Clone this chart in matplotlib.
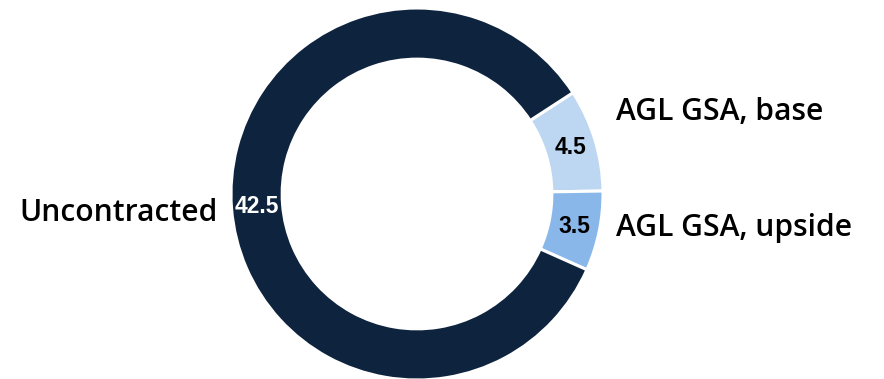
import matplotlib.pyplot as plt
import numpy as np

names = ['AGL GSA, base', 'AGL GSA, upside', 'Uncontracted']
values = [4.5, 3.5, 42.5]
colors = ['#BDD6F2', '#8AB7E9', '#0E233E']
num_colors = ['black', 'black', 'white']

W, H = 884, 379
fig = plt.figure(figsize=(W / 100, H / 100), dpi=100)
ax = fig.add_axes([0, 0, 1, 1])

# ring centre and outer radius in pixels
cx, cy, r = 417, 194, 186

wedges, texts = ax.pie(values, colors=colors, startangle=33, counterclock=False,
                       radius=1, wedgeprops=dict(width=0.275, edgecolor='white', linewidth=2.2))
ax.set_aspect('auto')
ax.set_xlim(-cx / r, (W - cx) / r)
ax.set_ylim(-(H - cy) / r, cy / r)
ax.axis('off')

for w, v, c in zip(wedges, values, num_colors):
    ang = np.deg2rad((w.theta1 + w.theta2) / 2)
    rr = 0.862
    ax.text(rr * np.cos(ang), rr * np.sin(ang), f'{v}', ha='center', va='center',
            color=c, fontsize=16.5, fontweight='bold', family='Liberation Sans')

def px(x, y):
    return x / W, 1 - y / H

fig.text(*px(616, 112), names[0], ha='left', va='center', fontsize=21.6, fontweight='semibold', family='Open Sans')
fig.text(*px(616, 228), names[1], ha='left', va='center', fontsize=21.6, fontweight='semibold', family='Open Sans')
fig.text(*px(218, 213), names[2], ha='right', va='center', fontsize=21.6, fontweight='semibold', family='Open Sans')

fig.savefig('out.png', dpi=100)
